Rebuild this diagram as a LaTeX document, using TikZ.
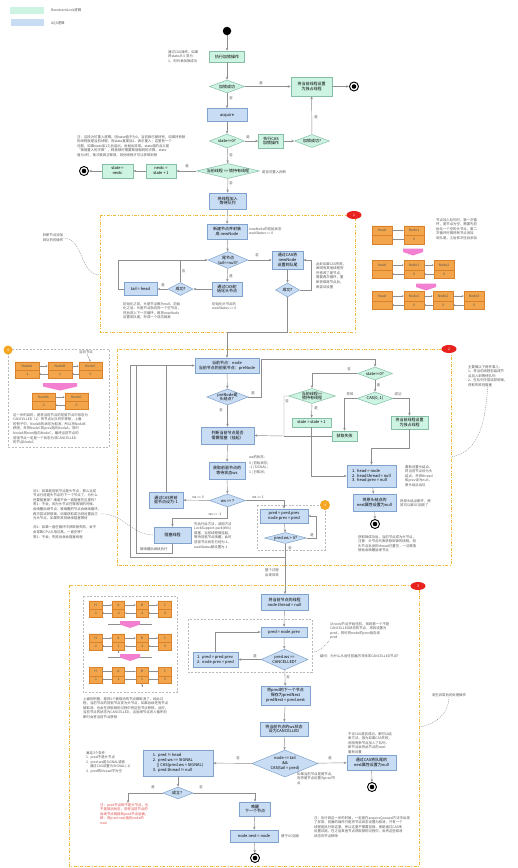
\documentclass[tikz,border=0pt]{standalone}
\usepackage{fontspec}
\setmainfont{Noto Sans CJK SC}
\usetikzlibrary{shapes.geometric,shapes.multipart,arrows.meta}
\definecolor{gfill}{HTML}{CDF3E3}
\definecolor{gline}{HTML}{86BFA6}
\definecolor{bfill}{HTML}{C8DCF3}
\definecolor{bline}{HTML}{7FA3CC}
\definecolor{flowc}{HTML}{8E8E8E}
\definecolor{notec}{HTML}{555555}
\definecolor{sectc}{HTML}{F0B93A}
\definecolor{ofill}{HTML}{F2A54A}
\definecolor{oline}{HTML}{D9822B}
\definecolor{otagc}{HTML}{F5A623}
\definecolor{pinkc}{HTML}{F27FD0}
\definecolor{tagred}{HTML}{E8231F}
\definecolor{redtxt}{HTML}{E04848}
\newcommand\boxfont{\fontsize{4}{4.8}\selectfont}
\newcommand\notefont{\fontsize{3.4}{4.6}\selectfont}
\tikzset{
  sz/.style 2 args={minimum width=#1, minimum height=#2},
  dsz/.style n args={3}{minimum width=#1, minimum height=#2, aspect=#3},
  gbox/.style={draw=gline, fill=gfill, line width=0.5pt, align=center, inner sep=0.5pt, font=\boxfont},
  bbox/.style={draw=bline, fill=bfill, line width=0.5pt, align=center, inner sep=0.5pt, font=\boxfont},
  gdia/.style={diamond, draw=gline, fill=gfill, line width=0.5pt, align=center, inner sep=0pt, font=\boxfont},
  bdia/.style={diamond, draw=bline, fill=bfill, line width=0.5pt, align=center, inner sep=0pt, font=\boxfont},
  note/.style={font=\notefont, text=notec, align=left, inner sep=0pt},
  lbl/.style={font=\notefont, text=notec, inner sep=0.8pt},
  flow/.style={draw=flowc, line width=0.45pt, -{Stealth[length=3pt,width=2.4pt]}},
  link/.style={draw=flowc, line width=0.45pt},
  dcurve/.style={draw=flowc, line width=0.4pt, dash pattern=on 1pt off 1pt},
  sect/.style={draw=sectc, line width=0.6pt, dash pattern=on 3pt off 1.5pt on 0.8pt off 1.5pt},
  grp/.style={draw=gray!55, line width=0.4pt, dash pattern=on 2pt off 1.5pt},
  tag/.style={ellipse, fill=tagred, text=white, minimum width=15pt, minimum height=8pt, inner sep=0pt, font=\notefont},
  otag/.style={circle, fill=otagc, text=white, minimum size=9pt, inner sep=0pt, font=\notefont},
  startpt/.style={circle, fill=black, minimum size=8.5pt, inner sep=0pt},
  endpt/.style={circle, draw=black, line width=0.9pt, fill=white, minimum size=9pt, inner sep=0pt,
    path picture={\fill[black] (path picture bounding box.center) circle (2.3pt);}},
  onode/.style={rectangle split, rectangle split parts=2, rectangle split ignore empty parts=false,
    draw=oline, fill=ofill, line width=0.4pt, font=\notefont, text=notec, text height=2.6pt, text depth=0.6pt,
    inner xsep=0pt, inner ysep=2.4pt, align=center},
  oarr/.style={draw=flowc, line width=0.35pt, -{Stealth[length=2pt,width=1.6pt]}}
}
\begin{document}
\begin{tikzpicture}[x=1pt,y=-1pt]
\useasboundingbox[fill=white] (0,0) rectangle (518,868);

% legend
\node[fill=gfill, sz={34}{7}] (lg1) at (27,10) {};
\node[note, anchor=west] (lg1t) at (51,10) {ReentrantLock逻辑};
\node[fill=bfill, sz={33}{7}] (lg2) at (27.5,22.5) {};
\node[note, anchor=west] (lg2t) at (51,23) {AQS逻辑};

% lock() entrance
\node[startpt] (st) at (227,31) {};
\node[note, anchor=north west] (n1) at (168,50) {通过CAS操作，如果\\将state从 0 变为\\1，则代表加锁成功};
\node[gbox, sz={35}{11}] (a1) at (227,56.5) {执行加锁操作};
\node[gdia, dsz={35}{13}{2.7}] (d1) at (227,86.5) {加锁成功};
\node[gbox, sz={41}{19}] (a2) at (311.5,86.5) {将当前线程设置\\为独占线程};
\node[endpt] (e1) at (354,86.5) {};
\node[bbox, sz={40}{13}] (b1) at (227,115) {acquire};
\node[gdia, dsz={35}{14}{2.5}] (d2) at (227,141) {state==0?};
\node[gbox, sz={25}{14}] (a3) at (271,141) {执行CAS\\加锁操作};
\node[gdia, dsz={35}{13}{2.7}] (d3) at (312,141) {加锁成功?};
\node[note, anchor=north west] (n2) at (77,135) {注：这段为可重入逻辑，因state值不为0，当前锁已被持有，如果持有锁\\的线程就是当前线程，则state直接加1，表示重入；这里有一个\\问题，如果state加1之后溢出，会抛出异常。state值的含义是\\“锁被重入的次数”，释放锁时需要释放相同的次数，state\\值为0时，锁才被真正释放，其他线程才可以获取到锁};
\node[gdia, dsz={63}{15}{4.2}] (d4) at (228,171) {当前线程 == 锁持有线程};
\node[note, anchor=west] (n3) at (262,172) {是否可重入判断};
\node[gbox, sz={30}{14}] (a4) at (161,171) {nextc =\\state + 1};
\node[gbox, sz={31}{14}] (a5) at (117.5,171) {state =\\nextc};
\node[endpt] (e2) at (84,171) {};
\node[bbox, sz={37}{16}] (b2) at (227.5,201) {将线程加入\\等待队列};

\draw[flow] (st) -- (a1);
\draw[flow] (a1) -- (d1);
\draw[flow] (d1) -- (a2);
\node[lbl] (l1) at (261,83) {是};
\draw[flow] (a2) -- (e1);
\draw[flow] (d1) -- (b1);
\node[lbl] (l2) at (231,98) {否};
\draw[flow] (b1) -- (d2);
\draw[flow] (d2) -- (a3);
\node[lbl] (l3) at (248,137) {是};
\draw[flow] (a3) -- (d3);
\draw[flow] (d3) -- (a2);
\node[lbl] (l4) at (316,117) {是};
\draw[flow] (d2) -- (d4);
\node[lbl] (l5) at (231,155) {否};
\draw[flow] (d4) -- (a4);
\node[lbl] (l6) at (187,166) {是};
\draw[flow] (a4) -- (a5);
\draw[flow] (a5) -- (e2);
\draw[flow] (d4) -- (b2);
\node[lbl] (l7) at (231,183) {否};

% section 1: addWaiter / enq
\draw[sect] (100,215) rectangle (355,332);
\node[tag] (t1) at (354,215) {1};
\node[note] (n4) at (53,238) {判断节点添加\\到队列的操作};
\coordinate (s1l) at (100,275);
\draw[dcurve] (n4.east) to[out=0,in=180] (s1l);
\node[bbox, sz={40}{15}] (b3) at (227,231.5) {新建节点并封装\\成 newNode};
\node[note, anchor=west] (n5) at (249,231) {newNode的初始状态\\waitStatus == 0};
\node[bdia, dsz={40}{17}{2.35}] (d5) at (228,260) {尾节点\\tail==null?};
\node[bbox, sz={31}{18}] (b4) at (287.5,260) {通过CAS将\\newNode\\设置到队尾};
\node[note, anchor=north west] (n6) at (316,262) {此处如果CAS失败，\\表明有其他线程同\\时修改了尾节点，\\需要再次循环，重\\新获取尾节点后，\\再尝试设置};
\node[bbox, sz={30}{14}] (b5) at (227,289) {通过CAS初\\始化头节点};
\node[bdia, dsz={25}{13}{1.9}] (d6) at (180.5,289) {成功?};
\node[bbox, sz={33}{13}] (b6) at (140.5,289) {tail = head};
\node[bdia, dsz={24}{14}{1.7}] (d7) at (287.5,290) {成功?};
\node[note, anchor=north west] (n7) at (123,302) {初始化之前，头尾节点都为null，初始\\化之后，头尾节点指向同一个空节点，\\然后进入下一次循环，再将newNode\\设置到队尾，形成一个双向链表};
\node[note, anchor=north west] (n8) at (212,302) {初始化头节点的\\waitStatus == 0};

\draw[flow] (b2) -- (b3);
\draw[flow] (b3) -- (d5);
\draw[flow] (d5) -- (b4);
\node[lbl] (l8) at (257,255) {否};
\draw[flow] (d5) -- (b5);
\node[lbl] (l9) at (231,276) {是};
\draw[flow] (b5) -- (d6);
\draw[flow] (d6) -- (b6);
\node[lbl] (l10) at (163,285) {是};
\draw[flow] (b6.west) -- ++(-6,0) |- (d5.west);
\draw[link] (d6.north) -- (d6.north |- d5.west);
\node[lbl] (l11) at (183.5,271) {否};
\draw[flow] (b4) -- (d7);
\draw[flow] (d7.east) -- ++(11,0) |- (b4.east);

% queue sketch beside section 1
\node[note, anchor=north west] (n9) at (436,218) {节点加入队列时，第一次循\\环，尾节点为空，需要先初\\始化一个空的头节点，第二\\次循环时再将新节点添加\\到队尾，之后依次往后添加};
\node[onode, minimum width=20, inner ysep=2.9pt] (q11) at (382,235) {head\nodepart{two}\phantom{0}};
\node[onode, minimum width=20, inner ysep=2.9pt] (q12) at (414,235) {Node1\nodepart{two}0};
\draw[oarr] ([yshift=4.5pt]q11.east) -- ([yshift=4.5pt]q12.west);
\draw[oarr] ([yshift=-4.5pt]q12.west) -- ([yshift=-4.5pt]q11.east);
\fill[pinkc] (403,248.5) -- (423,248.5) -- (423,252) -- (413,255.5) -- (403,252) -- cycle;
\node[onode, minimum width=20, inner ysep=2.9pt] (q21) at (382,269.5) {head\nodepart{two}\phantom{0}};
\node[onode, minimum width=20, inner ysep=2.9pt] (q22) at (414,269.5) {Node1\nodepart{two}0};
\node[onode, minimum width=20, inner ysep=2.9pt] (q23) at (444,269.5) {Node2\nodepart{two}0};
\draw[oarr] ([yshift=4.5pt]q21.east) -- ([yshift=4.5pt]q22.west);
\draw[oarr] ([yshift=-4.5pt]q22.west) -- ([yshift=-4.5pt]q21.east);
\draw[oarr] ([yshift=4.5pt]q22.east) -- ([yshift=4.5pt]q23.west);
\draw[oarr] ([yshift=-4.5pt]q23.west) -- ([yshift=-4.5pt]q22.east);
\fill[pinkc] (416,283.5) -- (436,283.5) -- (436,287) -- (426,290.5) -- (416,287) -- cycle;
\node[onode, minimum width=20, inner ysep=2.9pt] (q31) at (382,300.5) {head\nodepart{two}\phantom{0}};
\node[onode, minimum width=20, inner ysep=2.9pt] (q32) at (414,300.5) {Node1\nodepart{two}0};
\node[onode, minimum width=20, inner ysep=2.9pt] (q33) at (443,300.5) {Node2\nodepart{two}0};
\node[onode, minimum width=20, inner ysep=2.9pt] (q34) at (474,300.5) {Node3\nodepart{two}0};
\draw[oarr] ([yshift=4.5pt]q31.east) -- ([yshift=4.5pt]q32.west);
\draw[oarr] ([yshift=-4.5pt]q32.west) -- ([yshift=-4.5pt]q31.east);
\draw[oarr] ([yshift=4.5pt]q32.east) -- ([yshift=4.5pt]q33.west);
\draw[oarr] ([yshift=-4.5pt]q33.west) -- ([yshift=-4.5pt]q32.east);
\draw[oarr] ([yshift=4.5pt]q33.east) -- ([yshift=4.5pt]q34.west);
\draw[oarr] ([yshift=-4.5pt]q34.west) -- ([yshift=-4.5pt]q33.east);

% section 2: acquireQueued
\draw[sect] (117,349) rectangle (451,565);
\node[tag] (t2) at (449,349) {2};
\node[bbox, sz={64}{15}] (b7) at (227,365.5) {当前节点：node\\当前节点的前驱节点：preNode};
\node[bdia, dsz={41}{16}{2.56}] (d8) at (227.5,397) {preNode是\\头结点？};
\node[gdia, dsz={35}{13}{2.7}] (d9) at (375,373.5) {state==0?};
\node[gdia, dsz={44}{14}{3.1}] (d10) at (312,396) {当前线程==\\锁持有线程};
\node[gdia, dsz={36}{13}{2.8}] (d11) at (375,398.5) {CAS(0, 1)};
\node[gbox, sz={39}{9}] (a6) at (311.5,422.5) {state = state + 1};
\node[gbox, sz={25}{10}] (a7) at (344.5,436) {获取失败};
\node[gbox, sz={37}{13}] (a8) at (409.5,422.5) {将当前线程设置\\为独占线程};
\node[bbox, sz={49}{22}, align=left] (b8) at (371.5,476) {1.\ \ head = node\\2.\ \ head.thread = null\\3.\ \ head.prev = null};
\node[note, anchor=north west] (n10) at (405,465) {重新设置头结点，\\将当前节点设为头\\结点，并将thread\\和prev设为null，\\原头结点出队};
\node[bbox, sz={43}{17}] (b9) at (374.5,502.5) {将原头结点的\\next属性设置为null};
\node[note, anchor=north west] (n11) at (400,499) {将原头结点断开，使\\其可以被GC回收了};
\node[endpt] (e3) at (375,524) {};
\node[note, anchor=north west] (n12) at (358,535) {获取锁成功后，当前节点成为头节点，\\注意：头节点代表获取到锁的线程，但\\头节点本身的thread已置空，一旦释放\\锁就会唤醒后继节点};
\node[bbox, sz={53}{17}] (b10) at (227.5,435.5) {判断当前节点是否\\需要阻塞（挂起）};
\node[bbox, sz={36}{17}] (b11) at (227,470.5) {获取前驱节点的\\等待状态ws};
\node[note, anchor=north west] (n13) at (249,455) {ws的状态：\\[1.5pt]0 | 初始状态；\\-1 | SIGNAL；\\1 | 已取消；};
\node[bdia, dsz={36}{13}{2.8}] (d12) at (227.5,500.5) {ws == ?};
\node[bbox, sz={34}{16}] (b12) at (166,500) {通过CAS将前\\驱节点设为-1};
\node[bbox, sz={37}{16}] (b13) at (172.5,535) {阻塞线程};
\node[note, anchor=north west] (n14) at (194,522) {先执行此方法，调用方法\\LockSupport.park(this)\\阻塞，当前线程被挂起，\\等待前驱节点唤醒；此时\\前驱节点状态已经为-1，\\waitStatus被设置为-1};
\node[note, anchor=west] (n15) at (140,549) {被唤醒后继续执行};
\draw[grp] (257,505) rectangle (325,550);
\node[otag, minimum size=10pt] (t5) at (325,505) {4};
\node[bbox, sz={48}{14}] (b14) at (284,516) {pred = pred.prev\\node.prev = pred};
\node[bdia, dsz={42}{11}{3.8}] (d13) at (285.5,538) {pred.ws > 0?};
\node[note, anchor=north west] (n16) at (468,365) {主要做以下两件事儿：\\1、将当前线程包装成节\\点加入到等待队列\\2、在队列中尝试获取锁，\\获取失败则阻塞};
\coordinate (s2r) at (451,457);
\draw[dcurve] (n16.south) to[out=-95,in=10] (s2r);

\draw[flow] (d7.south) -- ++(0,35) -| (b7.north);
\draw[flow] (b7) -- (d8);
\draw[flow] (d8.east) -- (261,397) -- (261,359) -| (d9.north);
\node[lbl] (l12) at (253,393) {是};
\draw[flow] (d9.west) -| (d10.north);
\node[lbl] (l13) at (349,369) {否};
\draw[flow] (d9) -- (d11);
\node[lbl] (l14) at (378.5,385) {是};
\draw[flow] (d10) -- (a6);
\node[lbl] (l15) at (316,408) {是};
\draw[flow] (d11.west) -| (a7.north);
\node[lbl] (l16) at (350,394) {失败};
\draw[flow] (d11.east) -| (a8.north);
\node[lbl] (l17) at (398,394) {成功};
\draw[flow] (a8.south) -- ++(0,19) -| (b8.north);
\draw[flow] (a6.south) |- (b8.west);
\draw[flow] (b8) -- (b9);
\draw[flow] (b9) -- (e3);
\coordinate (j1) at (284,436);
\draw[flow] (d10.west) -| (j1) -- (b10.east);
\node[lbl] (l18) at (287,401) {否};
\draw[link] (a7.west) -- (j1);
\draw[flow] (d8) -- (b10);
\node[lbl] (l19) at (221,410) {否};
\draw[flow] (b10) -- (b11);
\draw[flow] (b11) -- (d12);
\draw[flow] (d12) -- (b12);
\node[lbl] (l20) at (198,497) {ws == 0};
\draw[flow] (d12.south) -- ++(0,10.5) -| (b13.north);
\node[lbl] (l21) at (215,514) {ws == -1};
\draw[flow] (d12.east) -| (b14.north);
\node[lbl] (l22) at (258,497) {ws == 1};
\draw[flow] (b14) -- (d13);
\draw[flow] (d13.east) -- ++(9,0) |- (b14.east);
\node[lbl] (l23) at (312,535) {是};
\draw[flow] (d13.south) |- (130,557) |- (b7.west);
\node[lbl] (l24) at (290,548) {否};
\draw[link] (b12.north) -- (b12.north |- b7.west);
\draw[link] (b13.south) -- ++(0,10) -| (136,366);

% node removal sketch (4)
\draw[grp] (8,349) rectangle (109,447);
\node[otag] (t4) at (8,350) {4};
\node[note] (cur) at (86,352) {当前节点};
\node[onode, minimum width=24] (oa1) at (27,370) {NodeA\nodepart{two}-1};
\node[onode, minimum width=24] (ob1) at (60,370) {NodeB\nodepart{two}1};
\node[onode, minimum width=23] (oc1) at (90.5,370) {NodeC\nodepart{two}0};
\draw[oarr] (cur) -- (oc1.north);
\draw[oarr] ([yshift=4pt]oa1.east) -- ([yshift=4pt]ob1.west);
\draw[oarr] ([yshift=-4pt]ob1.west) -- ([yshift=-4pt]oa1.east);
\draw[oarr] ([yshift=4pt]ob1.east) -- ([yshift=4pt]oc1.west);
\draw[oarr] ([yshift=-4pt]oc1.west) -- ([yshift=-4pt]ob1.east);
\fill[pinkc] (43,383) -- (77,383) -- (77,386.5) -- (60,390.5) -- (43,386.5) -- cycle;
\node[onode, minimum width=23] (oa2) at (43.5,401) {NodeA\nodepart{two}-1};
\node[onode, minimum width=23] (oc2) at (76.5,401) {NodeC\nodepart{two}0};
\draw[oarr] ([yshift=4pt]oa2.east) -- ([yshift=4pt]oc2.west);
\draw[oarr] ([yshift=-4pt]oc2.west) -- ([yshift=-4pt]oa2.east);
\node[note, anchor=north west] (n17) at (13,413) {这一步的目的，是将当前节点的前驱节点中状态为\\CANCELLED（1）的节点从队列中移除，上面\\的例子中，NodeB的状态为取消，所以将NodeB\\移除，并将NodeC的prev指向NodeA，同时\\NodeA的next指向NodeC，最终当前节点的\\前驱节点一定是一个状态为非CANCELLED\\的节点NodeC};

\node[note, anchor=north west] (n18) at (33,489) {问1：如果是前驱节点是头节点，那么当前\\节点已经是头节点的下一个节点了，为什么\\还要阻塞呢？难道不会一直阻塞在这里吗？\\答1：不会，因为头节点在释放锁的时候，\\会唤醒后继节点，被唤醒的节点会继续循环，\\再次尝试获取锁，如果获取成功则设置自己\\为头节点，如果失败则继续阻塞等待\\\\问2：如果一直在循环中获取锁失败，会不\\会导致CPU占用过高，一直空转？\\答2：不会，失败后就会阻塞线程};
\draw[dcurve] (n18.east) to[out=0,in=180] (b13.west);

% section 3: cancelAcquire
\node[note] (n19) at (272,573) {整个过程\\出现异常};
\coordinate (x2) at (285,557);
\draw[flow] (x2) -- (285,594);
\draw[sect] (69,585) rectangle (419,866);
\node[tag] (t3) at (418,586) {3};
\node[bbox, sz={47}{16}] (b15) at (284.5,602) {将当前节点的线程\\node.thread = null};
\draw[grp] (188,619) rectangle (312,672);
\node[bbox, sz={46}{10}] (b16) at (284,632) {pred = node.prev};
\node[bdia, dsz={47}{21}{2.24}] (d14) at (284.5,659.5) {pred.ws ==\\CANCELLED?};
\node[bbox, sz={45}{15}, align=left] (b17) at (215.5,659.5) {1.\ \ pred = pred.prev\\2.\ \ node.prev = pred};
\node[note, anchor=north west] (n20) at (330,622) {从node节点开始往前，找到第一个不是\\CANCELLED状态的节点，将其设置为\\pred，同时将node的prev指向该\\pred};
\coordinate (g3r) at (312,652);
\draw[dcurve] (g3r) to[out=0,in=225] (n20.south west);
\node[note, anchor=west] (n21) at (320,656) {疑问：为什么从后往前遍历寻找非CANCELLED节点？};
\node[bbox, sz={49}{19}] (b18) at (285.5,695.5) {将pred的下一个节点\\保存为predNext\\predNext = pred.next};
\node[bbox, sz={48}{14}] (b19) at (284,729) {将当前节点的ws状态\\设为CANCELLED};
\node[bdia, dsz={66}{27}{2.44}] (d15) at (285,763.5) {node == tail\\\&\&\\CAS(tail = pred)};
\node[bbox, sz={49}{15}] (b20) at (371.5,762.5) {通过CAS将队尾的\\next属性设置为null};
\node[note, anchor=north west] (n22) at (348,732) {不论CAS是否成功，都可以结\\束方法，因为如果CAS失败，\\说明有新节点加入了队列，\\新节点会将此节点的next\\重新设置};
\node[endpt] (e4) at (372,787) {};
\node[note, anchor=north west] (n23) at (297,772) {如果当前节点是尾节点，\\则将尾节点设置为pred节\\点};
\node[note, anchor=north west] (n24) at (314,816) {注：执行到这一步的时候，一定是在acquireQueued方法中出现\\了异常，前面的操作只是将节点状态设置为取消，只有一个\\线程能执行到这里，所以这里不需要加锁，而是通过CAS来\\设置队尾，在之后其他节点获取锁的过程中，会将这些取消\\状态的节点移除};
\node[bbox, sz={70}{26}, align=left] (b21) at (178,763) {1.\ \ pred != head\\2.\ \ pred.ws == SIGNAL\\\ \ \ \ \ || CAS(pred.ws = SIGNAL)\\3.\ \ pred.thread != null};
\node[note, anchor=north west] (n25) at (86,751) {满足3个条件：\\1.\ \ pred不是头节点\\2.\ \ pred.ws是SIGNAL或者\\\ \ \ \ \ 通过CAS设置为SIGNAL(-1)\\3.\ \ pred的thread不为空};
\node[bdia, dsz={30}{12}{2.5}] (d16) at (178,793) {成立？};
\node[note, text=redtxt, anchor=north west] (n26) at (100,803) {注：pred节点既不是头节点，也\\不是取消状态，则将当前节点的\\后继节点链接到pred节点后面，\\即：将pred.next指向node的\\next};
\node[bbox, sz={31}{14}] (b22) at (255,809) {唤醒\\下一个节点};
\node[bbox, sz={48}{12}] (b23) at (254,836) {node.next = node};
\node[note, anchor=west] (n27) at (281,836) {便于GC回收};
\node[endpt] (e5) at (255,858) {};
\node[note] (n28) at (449,695) {发生异常后的处理操作};
\coordinate (s3r) at (420,727);
\draw[dcurve] (n28.south) to[out=-90,in=10] (s3r);

\draw[flow] (b15) -- (b16);
\draw[flow] (b16) -- (d14);
\draw[flow] (d14) -- (b17);
\node[lbl] (l25) at (255,656) {是};
\draw[flow] (b17.north) |- (b16.west);
\draw[flow] (d14) -- (b18);
\node[lbl] (l26) at (288,677) {否};
\draw[flow] (b18) -- (b19);
\draw[flow] (b19) -- (d15);
\draw[flow] (d15) -- (b20);
\node[lbl] (l27) at (330,758) {是};
\draw[flow] (b20) -- (e4);
\draw[flow] (d15) -- (b21);
\node[lbl] (l28) at (238,758) {否};
\draw[flow] (b21) -- (d16);
\draw[flow] (d16.west) -| ([xshift=28pt]n26.north west);
\node[lbl] (l29) at (153,787) {是};
\draw[flow] (d16.east) -| (b22.north);
\node[lbl] (l30) at (201,787) {否};
\draw[flow] (b22) -- (b23);
\draw[flow] (b23) -- (e5);

% cancelled nodes sketch
\draw[grp] (83,596) rectangle (177,692);
\node[onode, minimum width=13] (c11) at (95.5,609) {H\nodepart{two}-1};
\node[onode, minimum width=12] (c12) at (118.5,609) {A\nodepart{two}-1};
\node[onode, minimum width=12] (c13) at (142,609) {B\nodepart{two}-1};
\node[onode, minimum width=13] (c14) at (165,609) {C\nodepart{two}0};
\node[onode, minimum width=13] (c21) at (95.5,642) {H\nodepart{two}-1};
\node[onode, minimum width=12] (c22) at (118.5,642) {A\nodepart{two}1};
\node[onode, minimum width=12] (c23) at (142,642) {B\nodepart{two}-1};
\node[onode, minimum width=13] (c24) at (165,642) {C\nodepart{two}0};
\node[onode, minimum width=13] (c31) at (95.5,675.5) {H\nodepart{two}-1};
\node[onode, minimum width=12] (c32) at (118.5,675.5) {A\nodepart{two}1};
\node[onode, minimum width=12] (c33) at (142,675.5) {B\nodepart{two}1};
\node[onode, minimum width=13] (c34) at (165,675.5) {C\nodepart{two}0};
\foreach \r in {1,2,3}{
  \draw[oarr] ([yshift=4pt]c\r1.east) -- ([yshift=4pt]c\r2.west);
  \draw[oarr] ([yshift=-4pt]c\r2.west) -- ([yshift=-4pt]c\r1.east);
  \draw[oarr] ([yshift=4pt]c\r2.east) -- ([yshift=4pt]c\r3.west);
  \draw[oarr] ([yshift=-4pt]c\r3.west) -- ([yshift=-4pt]c\r2.east);
  \draw[oarr] ([yshift=4pt]c\r3.east) -- ([yshift=4pt]c\r4.west);
  \draw[oarr] ([yshift=-4pt]c\r4.west) -- ([yshift=-4pt]c\r3.east);
}
\draw[oarr] ([yshift=-3pt]c22.south) -- (c22.south);
\draw[oarr] ([yshift=-3pt]c33.south) -- (c33.south);
\draw[link] (108,624) -- (152,624);
\fill[pinkc] (120,621) -- (140,621) -- (140,624.5) -- (130,628) -- (120,624.5) -- cycle;
\draw[link] (108,657) -- (152,657);
\fill[pinkc] (120,654) -- (140,654) -- (140,657.5) -- (130,661) -- (120,657.5) -- cycle;
\node[note, anchor=north west] (n29) at (83,697) {上面的例图，是将2个被取消的节点都取消了，经此过\\程，当前节点的前驱节点变为头节点，如果后续还有节点\\被取消，也会在获取锁的过程中将这些节点移除，此时，\\当前节点的状态为CANCELLED，当后继节点进入循环判\\断时会将当前节点移除};
\end{tikzpicture}
\end{document}
